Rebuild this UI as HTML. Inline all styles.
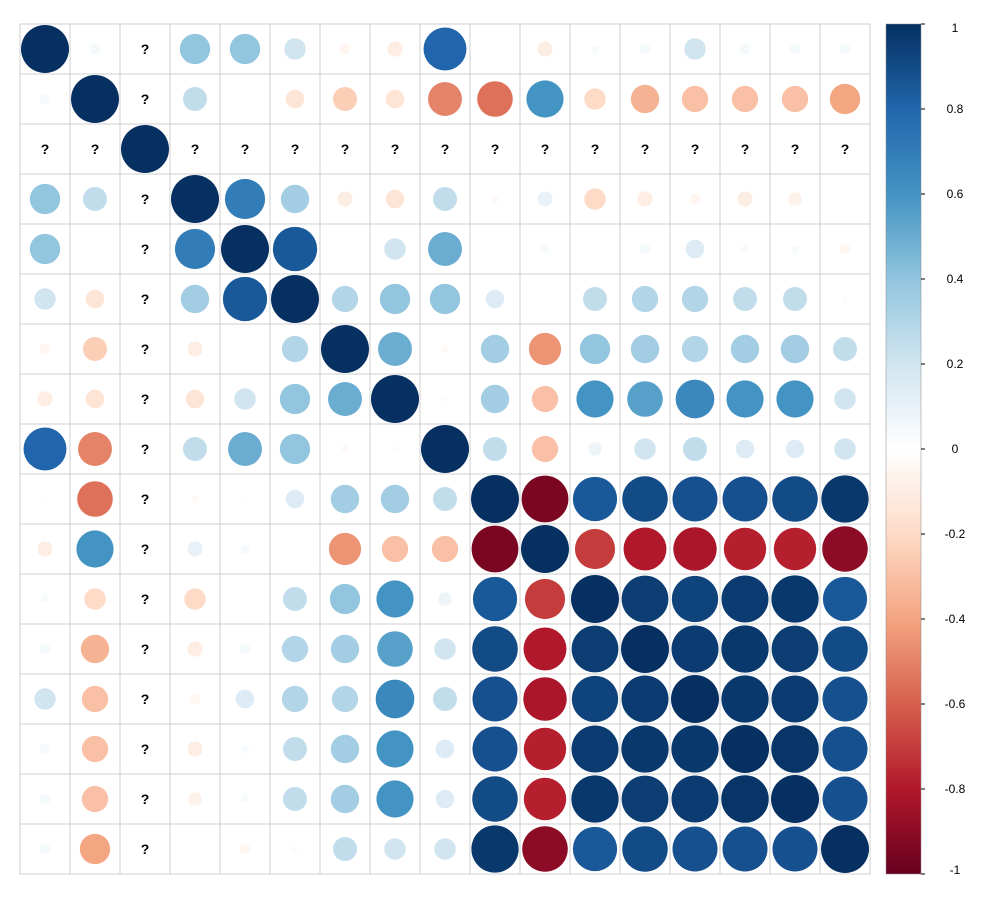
<!DOCTYPE html>
<html><head><meta charset="utf-8"><style>
html,body{margin:0;padding:0;background:#fff;width:1000px;height:900px;overflow:hidden}
svg text{font-family:"Liberation Sans",sans-serif}
</style></head><body>
<svg id="chart" width="1000" height="900" xmlns="http://www.w3.org/2000/svg">
<defs><linearGradient id="cbgrad" x1="0" y1="1" x2="0" y2="0">
<stop offset="0" stop-color="#67001F"/><stop offset="0.1" stop-color="#B2182B"/><stop offset="0.2" stop-color="#D6604D"/><stop offset="0.3" stop-color="#F4A582"/><stop offset="0.4" stop-color="#FDDBC7"/><stop offset="0.5" stop-color="#FFFFFF"/><stop offset="0.6" stop-color="#D1E5F0"/><stop offset="0.7" stop-color="#92C5DE"/><stop offset="0.8" stop-color="#4393C3"/><stop offset="0.9" stop-color="#2166AC"/><stop offset="1" stop-color="#053061"/>
</linearGradient></defs>
</svg>
<script>
const N = null;
const row01 = [1,0.05,N,0.4,0.4,0.2,-0.05,-0.1,0.8,0.01,-0.1,0.03,0.05,0.2,0.05,0.05,0.05];
const row02 = [0.05,1,N,0.25,0,-0.15,-0.25,-0.15,-0.5,-0.55,0.6,-0.2,-0.35,-0.3,-0.3,-0.3,-0.4];
const row03 = [N,N,1,N,N,N,N,N,N,N,N,N,N,N,N,N,N];
const row04 = [0.4,0.25,N,1,0.7,0.35,-0.1,-0.15,0.25,-0.03,0.1,-0.2,-0.1,-0.05,-0.1,-0.08,0.01];
const row05 = [0.4,0,N,0.7,1,0.85,0,0.2,0.5,0.01,0.04,0.01,0.05,0.15,0.03,0.03,-0.05];
const row06 = [0.2,-0.15,N,0.35,0.85,1,0.3,0.4,0.4,0.15,0,0.25,0.3,0.3,0.25,0.25,0.02];
const row07 = [-0.05,-0.25,N,-0.1,0,0.3,1,0.5,-0.03,0.35,-0.45,0.4,0.35,0.3,0.35,0.35,0.25];
const row08 = [-0.1,-0.15,N,-0.15,0.2,0.4,0.5,1,0.02,0.35,-0.3,0.6,0.55,0.65,0.6,0.6,0.2];
const row09 = [0.8,-0.5,N,0.25,0.5,0.4,-0.03,0.02,1,0.25,-0.3,0.08,0.2,0.25,0.15,0.15,0.2];
const row10 = [0.01,-0.55,N,-0.03,0.01,0.15,0.35,0.35,0.25,1,-0.95,0.85,0.9,0.88,0.88,0.9,0.97];
const row11 = [-0.1,0.6,N,0.1,0.04,0,-0.45,-0.3,-0.3,-0.95,1,-0.7,-0.8,-0.82,-0.78,-0.78,-0.9];
const row12 = [0.03,-0.2,N,-0.2,0.01,0.25,0.4,0.6,0.08,0.85,-0.7,1,0.95,0.93,0.96,0.97,0.85];
const row13 = [0.05,-0.35,N,-0.1,0.05,0.3,0.35,0.55,0.2,0.9,-0.8,0.95,1,0.96,0.97,0.95,0.9];
const row14 = [0.2,-0.3,N,-0.05,0.15,0.3,0.3,0.65,0.25,0.88,-0.82,0.93,0.96,1,0.97,0.96,0.88];
const row15 = [0.05,-0.3,N,-0.1,0.03,0.25,0.35,0.6,0.15,0.88,-0.78,0.96,0.97,0.97,1,0.98,0.88];
const row16 = [0.05,-0.3,N,-0.08,0.03,0.25,0.35,0.6,0.15,0.9,-0.78,0.97,0.95,0.96,0.98,1,0.88];
const row17 = [0.05,-0.4,N,0.01,-0.05,0.02,0.25,0.2,0.2,0.97,-0.9,0.85,0.9,0.88,0.88,0.88,1];
const matrix = [row01,row02,row03,row04,row05,row06,row07,row08,row09,row10,row11,row12,row13,row14,row15,row16,row17];
const colorbarTicks = [1,0.8,0.6,0.4,0.2,0,-0.2,-0.4,-0.6,-0.8,-1];

const svg = document.getElementById('chart');
const NS = 'http://www.w3.org/2000/svg';
const X0 = 20, Y0 = 24, CELL = 50, n = matrix.length, RMAX = 24;
const pal = ["#67001F","#B2182B","#D6604D","#F4A582","#FDDBC7","#FFFFFF","#D1E5F0","#92C5DE","#4393C3","#2166AC","#053061"];
function hex(h){return [1,3,5].map(i=>parseInt(h.substr(i,2),16));}
function color(v){
  const t=(v+1)/2*10; const i=Math.min(9,Math.floor(t)); const f=t-i;
  const a=hex(pal[i]), b=hex(pal[i+1]);
  return 'rgb('+a.map((c,k)=>Math.round(c+(b[k]-c)*f)).join(',')+')';
}
function el(tag, attrs){const e=document.createElementNS(NS,tag);for(const k in attrs)e.setAttribute(k,attrs[k]);svg.appendChild(e);return e;}
const xPos = j => X0 + j*CELL + CELL/2;
const yPos = i => Y0 + i*CELL + CELL/2;

for(let i=0;i<n;i++){
  for(let j=0;j<n;j++){
    const v = matrix[i][j];
    const r = el('rect',{x:X0+j*CELL,y:Y0+i*CELL,width:CELL,height:CELL,fill:'none',stroke:'#cfcfcf','stroke-width':1});
    
    
    if(v===null){
      const t = el('text',{x:xPos(j),y:yPos(i)+5,'text-anchor':'middle','font-size':14,'font-weight':'bold',fill:'#000'});
      t.textContent='?';
      
      
    } else {
      const c = el('circle',{cx:xPos(j),cy:yPos(i),r:RMAX*Math.sqrt(Math.abs(v)),fill:color(v)});
      
      
    }
  }
}
// colorbar
const CB_X = 886, CB_W = 35, CB_TOP = 24, CB_BOT = 874;
const cb = el('rect',{x:CB_X,y:CB_TOP,width:CB_W,height:CB_BOT-CB_TOP,fill:'url(#cbgrad)',stroke:'#888','stroke-width':0.5});


const cbY = v => CB_BOT - (v+1)/2*(CB_BOT-CB_TOP);
colorbarTicks.forEach(v=>{
  const y = Math.min(CB_BOT-4, Math.max(CB_TOP+4, cbY(v)));
  const tk = el('line',{x1:CB_X+CB_W,x2:CB_X+CB_W+4,y1:cbY(v),y2:cbY(v),stroke:'#000','stroke-width':1});
  
  
  const t = el('text',{x:CB_X+CB_W+34,y:y+4,'text-anchor':'middle','font-size':12,fill:'#000'});
  t.textContent = String(v);
  
  
});
</script>
</body></html>
